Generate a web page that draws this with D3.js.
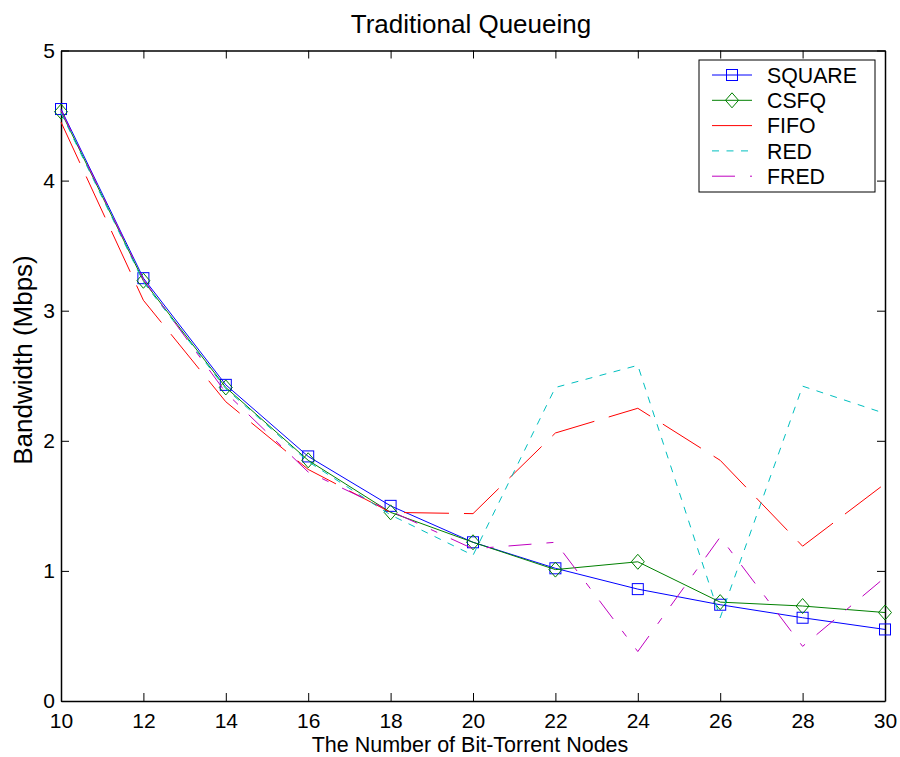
<!DOCTYPE html>
<html>
<head>
<meta charset="utf-8">
<script src="https://cdn.jsdelivr.net/npm/d3@7"></script>
<style>
  body { margin: 0; background: #fff; }
  text { font-family: Arial, "Liberation Sans", sans-serif; fill: #000; }
</style>
</head>
<body>
<svg id="chart" width="900" height="757"></svg>
<script>
// data
const nodes = [10, 12, 14, 16, 18, 20, 22, 24, 26, 28, 30];
const square = [4.55, 3.25, 2.43, 1.88, 1.50, 1.22, 1.02, 0.86, 0.74, 0.64, 0.55];
const csfq   = [4.53, 3.23, 2.41, 1.85, 1.45, 1.22, 1.01, 1.07, 0.76, 0.73, 0.68];
const fifo   = [4.45, 3.08, 2.30, 1.78, 1.45, 1.44, 2.06, 2.25, 1.85, 1.19, 1.67];
const red    = [4.52, 3.22, 2.40, 1.84, 1.43, 1.12, 2.41, 2.58, 0.64, 2.42, 2.21];
const fred   = [4.54, 3.24, 2.37, 1.76, 1.46, 1.17, 1.22, 0.38, 1.26, 0.42, 0.95];
const xTicks = [10, 12, 14, 16, 18, 20, 22, 24, 26, 28, 30];
const yTicks = [0, 1, 2, 3, 4, 5];

const series = [
    { name: "SQUARE", values: square, color: "#0000ff", dash: null, marker: "square" },
    { name: "CSFQ", values: csfq, color: "#008000", dash: null, marker: "diamond" },
    { name: "FIFO", values: fifo, color: "#ff0000", dash: "45,15", marker: null },
    { name: "RED", values: red, color: "#00bfbf", dash: "7,7.5", marker: null },
    { name: "FRED", values: fred, color: "#bf00bf", dash: "23,15,7,15", marker: null }
];

const svg = d3.select("#chart");
const plotLeft = 61, plotRight = 885, plotTop = 50.5, plotBottom = 701;

const x = d3.scaleLinear().domain([10, 30]).range([plotLeft, plotRight]);
const y = d3.scaleLinear().domain([0, 5]).range([plotBottom, plotTop]);

// axes box with inward ticks
const axisG = svg.append("g");
axisG.append("g")
    .attr("transform", `translate(0,${plotBottom})`)
    .call(d3.axisBottom(x).tickValues(xTicks).tickSizeInner(-8).tickSizeOuter(0).tickPadding(12).tickFormat(d3.format("d")));
axisG.append("g")
    .attr("transform", `translate(0,${plotTop})`)
    .call(d3.axisTop(x).tickValues(xTicks).tickSizeInner(-8).tickSizeOuter(0).tickFormat(""));
axisG.append("g")
    .attr("transform", `translate(${plotLeft},0)`)
    .call(d3.axisLeft(y).tickValues(yTicks).tickSizeInner(-8).tickSizeOuter(0).tickPadding(6).tickFormat(d3.format("d")));
axisG.append("g")
    .attr("transform", `translate(${plotRight},0)`)
    .call(d3.axisRight(y).tickValues(yTicks).tickSizeInner(-8).tickSizeOuter(0).tickFormat(""));

axisG.selectAll(".domain").attr("stroke", "#000").attr("stroke-width", 1.5);
axisG.selectAll(".tick line").attr("stroke", "#000").attr("stroke-width", 1);
axisG.selectAll(".tick text")
    .style("font-size", "21px")
    .style("font-family", "Arial, 'Liberation Sans', sans-serif");

const line = d3.line()
    .x((d, i) => x(nodes[i]))
    .y(d => y(d));

function drawMarker(g, type, cx, cy, color) {
    if (type === "square") {
        g.append("rect")
            .attr("x", cx - 5.5).attr("y", cy - 5.5)
            .attr("width", 11).attr("height", 11)
            .attr("fill", "none").attr("stroke", color).attr("stroke-width", 1);
    } else if (type === "diamond") {
        g.append("path")
            .attr("d", `M${cx},${cy - 7.5}L${cx + 6.5},${cy}L${cx},${cy + 7.5}L${cx - 6.5},${cy}Z`)
            .attr("fill", "none").attr("stroke", color).attr("stroke-width", 1);
    }
}

// draw in plot order, last on top
series.forEach(s => {
    const g = svg.append("g");
    g.append("path")
        .datum(s.values)
        .attr("d", line)
        .attr("fill", "none")
        .attr("stroke", s.color)
        .attr("stroke-width", 1)
        .attr("stroke-dasharray", s.dash);
    if (s.marker) {
        s.values.forEach((v, i) => drawMarker(g, s.marker, x(nodes[i]), y(v), s.color));
    }
});

// legend
const lg = svg.append("g");
lg.append("rect")
    .attr("x", 699).attr("y", 60).attr("width", 176).attr("height", 132)
    .attr("fill", "#fff").attr("stroke", "#000").attr("stroke-width", 1);
series.forEach((s, i) => {
    const ly = 75 + i * 25.3;
    lg.append("line")
        .attr("x1", 712).attr("x2", 752).attr("y1", ly).attr("y2", ly)
        .attr("stroke", s.color).attr("stroke-width", 1)
        .attr("stroke-dasharray", s.dash);
    if (s.marker) drawMarker(lg, s.marker, 732, ly, s.color);
    lg.append("text")
        .attr("x", 767).attr("y", ly)
        .attr("dy", "0.36em")
        .style("font-size", "21.3px")
        .text(s.name);
});

// titles
svg.append("text")
    .attr("x", 471).attr("y", 33)
    .attr("text-anchor", "middle")
    .style("font-size", "26px")
    .text("Traditional Queueing");
svg.append("text")
    .attr("x", 470).attr("y", 752)
    .attr("text-anchor", "middle")
    .style("font-size", "21.5px")
    .text("The Number of Bit-Torrent Nodes");
svg.append("text")
    .attr("transform", "translate(32,360) rotate(-90)")
    .attr("text-anchor", "middle")
    .style("font-size", "26px")
    .text("Bandwidth (Mbps)");
</script>
</body>
</html>
